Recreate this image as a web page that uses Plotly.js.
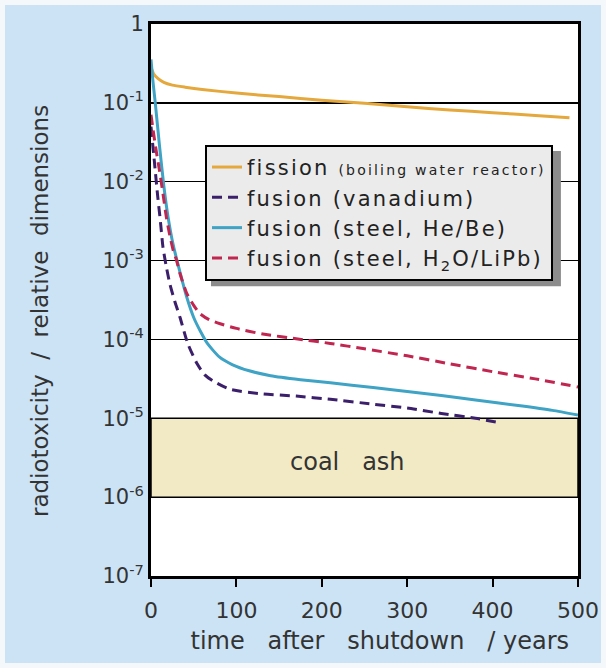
<!DOCTYPE html>
<html><head><meta charset="utf-8">
<script src="https://cdn.plot.ly/plotly-3.0.1.min.js"></script>
<style>
html,body{margin:0;padding:0;background:#cce3f5}
#chart{width:606px;height:668px}
.legendtext{letter-spacing:2.2px}
</style>
</head><body><div id="chart"></div>
<script>
// ---- data ----
const fissionYears  = [0,3,8,15,25,40,60,100,150,200,250,300,350,400,450,490];
const fissionValues = [0.282,0.234,0.204,0.182,0.168,0.158,0.148,0.133,0.120,0.108,0.0989,0.0891,0.0813,0.0750,0.0692,0.0646];

const vanadiumYears  = [0,4,8,11,14,18,22,28,34,43,54,63,72,92,130,170,210,260,300,340,380,410];
const vanadiumValues = [0.05,0.0178,0.0063,0.00316,0.00148,8.3e-4,5.1e-4,3.0e-4,1.9e-4,8.9e-5,4.9e-5,3.55e-5,3.0e-5,2.34e-5,2.04e-5,1.91e-5,1.74e-5,1.51e-5,1.35e-5,1.15e-5,1.0e-5,8.7e-6];

const steelHeBeYears  = [0,2,5,10,15,20,26,34,42,50,58,66,80,95,115,140,175,210,260,300,340,380,430,470,500];
const steelHeBeValues = [0.355,0.2,0.1,0.0282,0.0089,0.00355,0.00158,7.1e-4,3.4e-4,1.9e-4,1.26e-4,8.9e-5,6.0e-5,4.8e-5,4.0e-5,3.47e-5,3.09e-5,2.82e-5,2.45e-5,2.19e-5,1.95e-5,1.70e-5,1.45e-5,1.26e-5,1.10e-5];

const steelH2OYears  = [0,2,6,10,14,18,22,26,30,34,42,50,57,68,81,100,131,170,210,250,300,350,400,450,500];
const steelH2OValues = [0.0708,0.049,0.025,0.0138,0.00708,0.00355,0.00209,0.00135,1.0e-3,6.8e-4,3.8e-4,2.7e-4,2.14e-4,1.78e-4,1.58e-4,1.38e-4,1.17e-4,1.02e-4,8.9e-5,7.6e-5,6.2e-5,4.9e-5,3.9e-5,3.16e-5,2.5e-5];

const coalAshLow  = 1e-6;
const coalAshHigh = 1e-5;

const xTickVals = [0,100,200,300,400,500];
const yTickVals = [1,1e-1,1e-2,1e-3,1e-4,1e-5,1e-6,1e-7];
const yTickText = ['1','10<sup>-1</sup>','10<sup>-2</sup>','10<sup>-3</sup>','10<sup>-4</sup>','10<sup>-5</sup>','10<sup>-6</sup>','10<sup>-7</sup>'];

const nb = '\u00a0', zw = '\u200b';
const seriesNames = [
  'fission <span style="font-size:14px">(boiling water reactor)</span>',
  'fusion (vanadium)',
  'fusion (steel, He/Be)',
  'fusion (steel, H<sub>2</sub>O/LiPb)'
];

// ---- chart ----
const xMin = xTickVals[0], xMax = xTickVals[xTickVals.length-1];

const traces = [
  { // coal ash band
    x:[xMin,xMax,xMax,xMin,xMin],
    y:[coalAshLow,coalAshLow,coalAshHigh,coalAshHigh,coalAshLow],
    mode:'lines', fill:'toself', fillcolor:'#f2eac4',
    line:{color:'black', width:1.5}, showlegend:false, hoverinfo:'skip'
  },
  { x:fissionYears, y:fissionValues, name:seriesNames[0], mode:'lines',
    line:{color:'#e4a83c', width:3, shape:'spline', smoothing:0.6} },
  { x:vanadiumYears, y:vanadiumValues, name:seriesNames[1], mode:'lines',
    line:{color:'#3b1f6b', width:3, dash:'10px,6px', shape:'spline', smoothing:0.6} },
  { x:steelHeBeYears, y:steelHeBeValues, name:seriesNames[2], mode:'lines',
    line:{color:'#3ea3c4', width:3, shape:'spline', smoothing:0.6} },
  { x:steelH2OYears, y:steelH2OValues, name:seriesNames[3], mode:'lines',
    line:{color:'#c0264f', width:3, dash:'10px,6px', shape:'spline', smoothing:0.6} }
];

const layout = {
  width:606, height:668,
  margin:{l:151, r:28, t:24, b:92},
  paper_bgcolor:'#cce3f5', plot_bgcolor:'white',
  font:{family:'"DejaVu Sans", Verdana, sans-serif', color:'#333'},
  xaxis:{
    range:[xMin,xMax], tickvals:xTickVals, ticktext:xTickVals.map(String),
    showline:true, linewidth:3, linecolor:'black', mirror:true,
    ticks:'outside', ticklen:8, tickwidth:2, tickcolor:'black',
    tickfont:{size:22, color:'#333'}, ticklabelstandoff:5,
    showgrid:false, zeroline:false,
    title:{text:zw+nb+nb+nb+nb+'time'+nb+nb+nb+'after'+nb+nb+nb+'shutdown'+nb+nb+nb+'/'+nb+'years',
           font:{size:24, color:'#333'}, standoff:10}
  },
  yaxis:{
    type:'log', range:[-7,0], tickvals:yTickVals, ticktext:yTickText,
    showline:true, linewidth:3, linecolor:'black', mirror:true,
    ticks:'', showgrid:true, gridcolor:'black', gridwidth:1.5, zeroline:false,
    tickfont:{size:21, color:'#333'},
    title:{text:'radiotoxicity'+nb+nb+'/'+nb+nb+'relative'+nb+nb+'dimensions'+nb+nb+nb+zw,
           font:{size:23, color:'#333'}, standoff:48}
  },
  legend:{
    x:0.1265, y:0.781, xanchor:'left', yanchor:'top',
    bgcolor:'#ebebeb', bordercolor:'black', borderwidth:2,
    font:{size:21, color:'#222'}, itemwidth:30, tracegroupgap:0
  },
  annotations:[{
    x:230, y:-5.55, xref:'x', yref:'y', showarrow:false,
    text:'coal'+nb+nb+nb+'ash', font:{size:24, color:'#333'}
  }],
  shapes:[
    { type:'rect', xref:'paper', yref:'paper', x0:0.1405, x1:0.960, y0:0.525, y1:0.770,
      fillcolor:'#8c8c8c', line:{width:0}, layer:'above' },
    { type:'rect', xref:'paper', yref:'paper', x0:-0.3536, x1:1.0656, y0:-0.1667, y1:1.0435,
      fillcolor:'rgba(0,0,0,0)', line:{color:'#f4f8fb', width:10}, layer:'above' }
  ]
};

Plotly.newPlot('chart', traces, layout, {staticPlot:true, displayModeBar:false});
</script></body></html>
